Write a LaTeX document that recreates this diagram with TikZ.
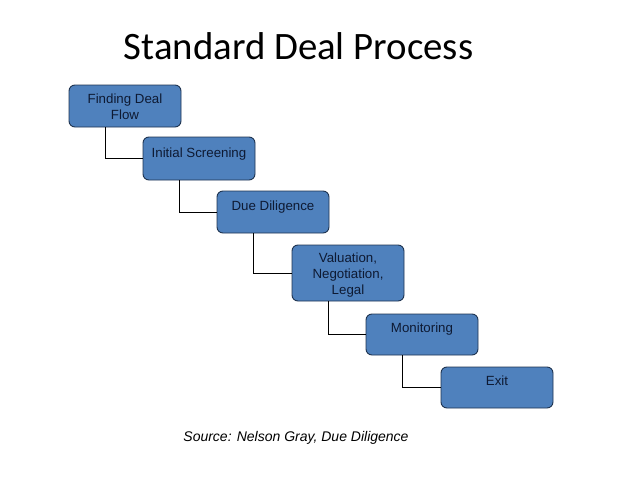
\documentclass[tikz,border=0pt]{standalone}
\usepackage{fontspec}
\setmainfont{Liberation Sans}
\newfontfamily\titlefont{Carlito}
\definecolor{boxfill}{HTML}{4F81BD}
\definecolor{boxdraw}{HTML}{1E3350}
\definecolor{boxtext}{HTML}{0E1A33}
\begin{document}
\begin{tikzpicture}[x=1pt,y=-1pt,
  stepbox/.style={draw=boxdraw, fill=boxfill, rounded corners=6pt, line width=0.9pt, minimum width=112pt, inner sep=0pt},
  boxlabel/.style={anchor=north, align=center, text=boxtext, font=\fontsize{13.3}{16}\selectfont, inner sep=0pt},
  link/.style={draw=black, line width=0.8pt}]
\useasboundingbox (0,0) rectangle (638,479);
\node[font=\titlefont\fontsize{38.8}{44}\selectfont] (title) at (298.5,46) {Standard Deal Process};
\node[stepbox, minimum height=42pt] (b1) at (125,106) {};
\node[stepbox, minimum height=43pt] (b2) at (199,158.5) {};
\node[stepbox, minimum height=42pt] (b3) at (273,212) {};
\node[stepbox, minimum height=56pt] (b4) at (348,273) {};
\node[stepbox, minimum height=41pt] (b5) at (422,334.5) {};
\node[stepbox, minimum height=41pt] (b6) at (497,387.5) {};
\node[boxlabel] (t1) at ([yshift=-9pt]b1.north) {Finding Deal\\Flow};
\node[boxlabel] (t2) at ([yshift=-11.5pt]b2.north) {Initial Screening};
\node[boxlabel] (t3) at ([yshift=-10.5pt]b3.north) {Due Diligence};
\node[boxlabel] (t4) at ([yshift=-8.5pt]b4.north) {Valuation,\\Negotiation,\\Legal};
\node[boxlabel] (t5) at ([yshift=-9.5pt]b5.north) {Monitoring};
\node[boxlabel] (t6) at ([yshift=-9.5pt]b6.north) {Exit};
\draw[link] ([xshift=37pt]b1.south west) |- (b2.west);
\draw[link] ([xshift=37pt]b2.south west) |- (b3.west);
\draw[link] ([xshift=37pt]b3.south west) |- (b4.west);
\draw[link] ([xshift=37pt]b4.south west) |- (b5.west);
\draw[link] ([xshift=37pt]b5.south west) |- (b6.west);
\node[font=\itshape\fontsize{14}{17}\selectfont] (src) at (296,438) {Source: Nelson Gray, Due Diligence};
\end{tikzpicture}
\end{document}
